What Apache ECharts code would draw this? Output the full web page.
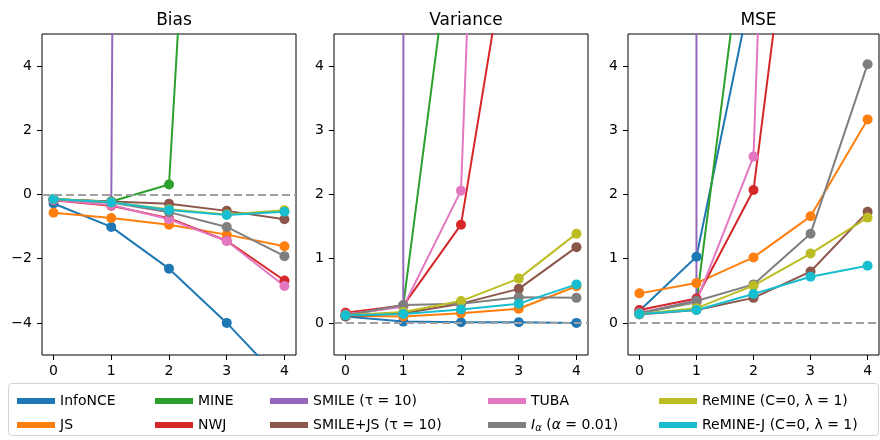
<!DOCTYPE html>
<html>
<head>
    <meta charset="utf-8">
    <title>Bias / Variance / MSE</title>
    <script src="https://cdn.jsdelivr.net/npm/echarts@6/dist/echarts.min.js"></script>
</head>
<body style="margin:0;background:#fff;">
    <div id="main" style="width: 880px;height:440px;"></div>
    <script type="text/javascript">
        // x positions shared by all three panels
        var steps = [0, 1, 2, 3, 4];

        var methods = ['InfoNCE', 'JS', 'MINE', 'NWJ', 'SMILE (τ = 10)', 'SMILE+JS (τ = 10)',
            'TUBA', 'Iα (α = 0.01)', 'ReMINE (C=0, λ = 1)', 'ReMINE-J (C=0, λ = 1)'];

        var colors = ['#1f77b4', '#ff7f0e', '#2ca02c', '#d62728', '#9467bd',
            '#8c564b', '#e377c2', '#7f7f7f', '#bcbd22', '#17becf'];

        // one row per method, in the order of `methods`
        var biasValues = [
            [-0.28, -1.01, -2.31, -4.0, -5.9],
            [-0.57, -0.73, -0.94, -1.25, -1.61],
            [-0.15, -0.22, 0.31, 31, 80],
            [-0.18, -0.35, -0.74, -1.44, -2.68],
            [-0.15, -0.25, 300, 800, 1500],
            [-0.15, -0.22, -0.29, -0.51, -0.77],
            [-0.17, -0.33, -0.77, -1.45, -2.85],
            [-0.15, -0.25, -0.55, -1.01, -1.92],
            [-0.13, -0.24, -0.46, -0.62, -0.49],
            [-0.14, -0.24, -0.48, -0.64, -0.54]
        ];

        var varianceValues = [
            [0.10, 0.02, 0.01, 0.01, 0.0],
            [0.11, 0.10, 0.15, 0.22, 0.57],
            [0.12, 0.27, 7.2, 150, 900],
            [0.16, 0.27, 1.53, 7.0, 40],
            [0.12, 0.27, 2000, 6000, 15000],
            [0.10, 0.15, 0.30, 0.53, 1.18],
            [0.13, 0.25, 2.06, 26, 60],
            [0.12, 0.28, 0.30, 0.40, 0.39],
            [0.12, 0.17, 0.34, 0.69, 1.39],
            [0.12, 0.14, 0.21, 0.30, 0.60]
        ];

        var mseValues = [
            [0.19, 1.03, 5.35, 16.0, 34.8],
            [0.46, 0.62, 1.02, 1.66, 3.17],
            [0.15, 0.32, 7.3, 1050, 7300],
            [0.20, 0.38, 2.07, 9.1, 47],
            [0.15, 0.35, 92000, 646000, 2260000],
            [0.13, 0.20, 0.39, 0.80, 1.73],
            [0.16, 0.33, 2.59, 28, 68],
            [0.15, 0.34, 0.60, 1.39, 4.03],
            [0.14, 0.23, 0.58, 1.08, 1.64],
            [0.14, 0.20, 0.45, 0.72, 0.89]
        ];

        var panelTitles = ['Bias', 'Variance', 'MSE'];
        var yTicks = [[-4, -2, 0, 2, 4], [0, 1, 2, 3, 4], [0, 1, 2, 3, 4]];
        var yRanges = [[-5, 5], [-0.5, 4.5], [-0.5, 4.5]];
        var xTicks = [0, 1, 2, 3, 4];

        var font = 'DejaVu Sans';
        var myChart = echarts.init(document.getElementById('main'));

        var grids = [
            { left: 42, top: 34, width: 254, height: 321 },
            { left: 334, top: 34, width: 254, height: 321 },
            { left: 628, top: 34, width: 251, height: 321 }
        ];
        grids.forEach(function (g) {
            g.show = true;
            g.borderColor = '#000';
            g.borderWidth = 1;
        });

        function minus(v) {
            return String(v).replace('-', '\u2212');
        }

        var xAxes = [], yAxes = [], titles = [], series = [];
        var allValues = [biasValues, varianceValues, mseValues];

        for (var p = 0; p < 3; p++) {
            xAxes.push({
                type: 'value', gridIndex: p, min: -0.2, max: 4.2,
                axisLine: { show: false, onZero: false },
                axisTick: { show: true, length: 5, lineStyle: { color: '#000' }, customValues: xTicks },
                axisLabel: { color: '#000', fontSize: 14, fontFamily: font, margin: 9, customValues: xTicks, formatter: minus },
                splitLine: { show: false }
            });
            yAxes.push({
                type: 'value', gridIndex: p, min: yRanges[p][0], max: yRanges[p][1],
                axisLine: { show: false, onZero: false },
                axisTick: { show: true, length: 5, lineStyle: { color: '#000' }, customValues: yTicks[p] },
                axisLabel: { color: '#000', fontSize: 14, fontFamily: font, margin: 10, customValues: yTicks[p], formatter: minus },
                splitLine: { show: false }
            });
            titles.push({
                text: panelTitles[p],
                left: grids[p].left + grids[p].width / 2,
                top: 7,
                textAlign: 'center',
                textStyle: { fontSize: 17, fontWeight: 'normal', color: '#000', fontFamily: font }
            });

            for (var k = 0; k < methods.length; k++) {
                var vals = allValues[p][k];
                series.push({
                    type: 'line',
                    name: methods[k],
                    xAxisIndex: p,
                    yAxisIndex: p,
                    data: steps.map(function (x, i) { return [x, vals[i]]; }),
                    symbol: 'circle',
                    symbolSize: 10,
                    clip: true,
                    color: colors[k],
                    lineStyle: { width: 2 },
                    emphasis: { disabled: true },
                    animation: false
                });
            }

            // dashed zero reference line
            series.push({
                type: 'line',
                xAxisIndex: p,
                yAxisIndex: p,
                data: [],
                z: 3,
                markLine: {
                    silent: true,
                    symbol: ['none', 'none'],
                    label: { show: false },
                    lineStyle: { color: '#a0a0a0', type: [8, 4], width: 2 },
                    data: [{ yAxis: 0 }],
                    animation: false
                }
            });
        }

        // legend: 5 columns of 2, filled column by column; one legend per entry
        var legendLefts = [12, 150, 265, 483, 654];
        var legendTops = [388, 412];
        var legends = methods.map(function (name, k) {
            return {
                left: legendLefts[Math.floor(k / 2)],
                top: legendTops[k % 2],
                itemWidth: 38,
                itemHeight: 6,
                icon: 'rect',
                selectedMode: false,
                data: [name],
                formatter: function (n) {
                    if (n.indexOf('Iα') === 0) {
                        return '{it|I}{sub|α} ({it|α} = 0.01)';
                    }
                    return n;
                },
                textStyle: {
                    fontSize: 14, color: '#000', fontFamily: font, lineHeight: 16,
                    rich: {
                        it: { fontSize: 14, fontStyle: 'italic', fontFamily: font, color: '#000', lineHeight: 16 },
                        sub: { fontSize: 10, fontStyle: 'italic', fontFamily: font, color: '#000', lineHeight: 16, verticalAlign: 'bottom', padding: [6, 0, 0, 0] }
                    }
                }
            };
        });

        myChart.setOption({
            animation: false,
            title: titles,
            grid: grids,
            xAxis: xAxes,
            yAxis: yAxes,
            legend: legends,
            graphic: [{
                type: 'rect',
                z: 0,
                shape: { x: 8.5, y: 383.5, width: 870, height: 52, r: 3 },
                style: { fill: '#fff', stroke: '#d4d4d4', lineWidth: 1 }
            }],
            series: series
        });
    </script>
</body>
</html>
